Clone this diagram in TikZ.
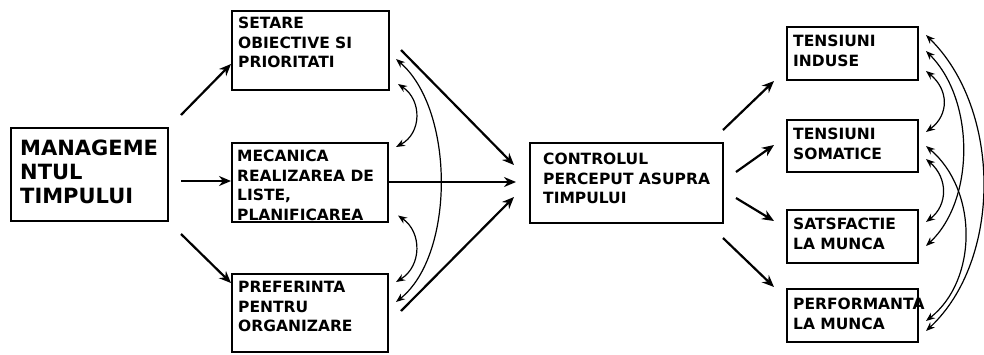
\documentclass[tikz,border=0pt]{standalone}
\usepackage{fontspec}
\setmainfont{DejaVu Sans}
\usetikzlibrary{arrows.meta,calc}
\tikzset{
  box/.style={draw, line width=2pt, inner sep=0pt},
  lbl/.style={anchor=north west, inner sep=0pt, align=left,
    font=\fontsize{15.5}{19.5}\selectfont\bfseries},
  biglbl/.style={anchor=north west, inner sep=0pt, align=left,
    font=\fontsize{21}{24}\selectfont\bfseries},
  flow/.style={line width=2.2pt, -{Stealth[length=12pt,width=10pt]}},
  link/.style={line width=1.2pt, {Stealth[length=9pt,width=7pt]}-{Stealth[length=9pt,width=7pt]}},
}
\begin{document}
\begin{tikzpicture}[x=1pt,y=-1pt]
\useasboundingbox[fill=white] (0,0) rectangle (984,354);

% boxes
\node[box, minimum width=157pt, minimum height=93pt] (mgt) at (89.5,174.5) {};
\node[box, minimum width=157pt, minimum height=79pt] (set) at (310.5,50.5) {};
\node[box, minimum width=156pt, minimum height=79pt] (mec) at (310,182.5) {};
\node[box, minimum width=156pt, minimum height=78pt] (pref) at (310,313) {};
\node[box, minimum width=193pt, minimum height=80pt] (ctl) at (626.5,183) {};
\node[box, minimum width=131pt, minimum height=53pt] (ind) at (852.5,53.5) {};
\node[box, minimum width=131pt, minimum height=52pt] (som) at (852.5,146) {};
\node[box, minimum width=131pt, minimum height=53pt] (sat) at (852.5,236.5) {};
\node[box, minimum width=131pt, minimum height=53pt] (perf) at (852.5,315.5) {};

% labels
\node[biglbl] (tmgt) at (20,140) {MANAGEME\\NTUL\\TIMPULUI};
\node[lbl] (tset) at (238,17) {SETARE\\OBIECTIVE SI\\PRIORITATI};
\node[lbl] (tmec) at (237,150) {MECANICA\\REALIZAREA DE\\LISTE,\\PLANIFICAREA};
\node[lbl] (tpref) at (238,281) {PREFERINTA\\PENTRU\\ORGANIZARE};
\node[lbl] (tctl) at (543,153) {CONTROLUL\\PERCEPUT ASUPRA\\TIMPULUI};
\node[lbl] (tind) at (793,35) {TENSIUNI\\INDUSE};
\node[lbl] (tsom) at (793,128) {TENSIUNI\\SOMATICE};
\node[lbl] (tsat) at (793,218) {SATSFACTIE\\LA MUNCA};
\node[lbl] (tperf) at (793,298) {PERFORMANTA\\LA MUNCA};

% management -> three components
\draw[flow] ($(mgt.north east)+(12,-12)$) -- ($(set.north west)+(0,54)$);
\draw[flow] ($(mgt.east)+(12,6.5)$) -- ($(mec.west)+(0,-1.5)$);
\draw[flow] ($(mgt.south east)+(12,12)$) -- ($(pref.north west)+(0,10)$);

% components -> perceived control
\draw[flow] ($(set.north east)+(11,40)$) -- ($(ctl.west)+(-15,-18)$);
\draw[flow] ($(mec.east)+(0,-0.5)$) -- ($(ctl.west)+(-13,-1)$);
\draw[flow] ($(pref.north east)+(12,38)$) -- ($(ctl.west)+(-15,14)$);

% perceived control -> outcomes
\draw[flow] ($(ctl.north east)+(-1,-12)$) -- ($(ind.south west)+(-12,0)$);
\draw[flow] ($(ctl.east)+(12,-11)$) -- ($(som.north west)+(-12,26)$);
\draw[flow] ($(ctl.east)+(12,15)$) -- ($(sat.north west)+(-12,12)$);
\draw[flow] ($(ctl.south east)+(-1,14)$) -- ($(perf.north west)+(-12,-1)$);

% correlations among components
\draw[link] ($(set.south east)+(8,-7)$) .. controls (422,100) and (422,133) .. ($(mec.north east)+(7,5)$);
\draw[link] ($(mec.south east)+(9,-7.5)$) .. controls (422,232) and (422,266) .. ($(pref.north east)+(7,9)$);
\draw[link] ($(set.north east)+(6,49)$) .. controls (455,110) and (455,255) .. ($(pref.north east)+(7,29)$);

% correlations among outcomes
\draw[link] ($(ind.north east)+(7,45)$) .. controls (949,90) and (949,115) .. ($(som.north east)+(7,13)$);
\draw[link] ($(som.north east)+(7,40)$) .. controls (948,178) and (948,205) .. ($(sat.north east)+(7,13)$);
\draw[link] ($(ind.north east)+(7,25)$) .. controls (975,100) and (975,200) .. ($(sat.north east)+(7,37)$);
\draw[link] ($(som.north east)+(7,27)$) .. controls (978,190) and (978,280) .. ($(perf.north east)+(7,33)$);
\draw[link] ($(ind.north east)+(7,9)$) .. controls (1002,110) and (1002,260) .. ($(perf.north east)+(7,43)$);
\end{tikzpicture}
\end{document}
